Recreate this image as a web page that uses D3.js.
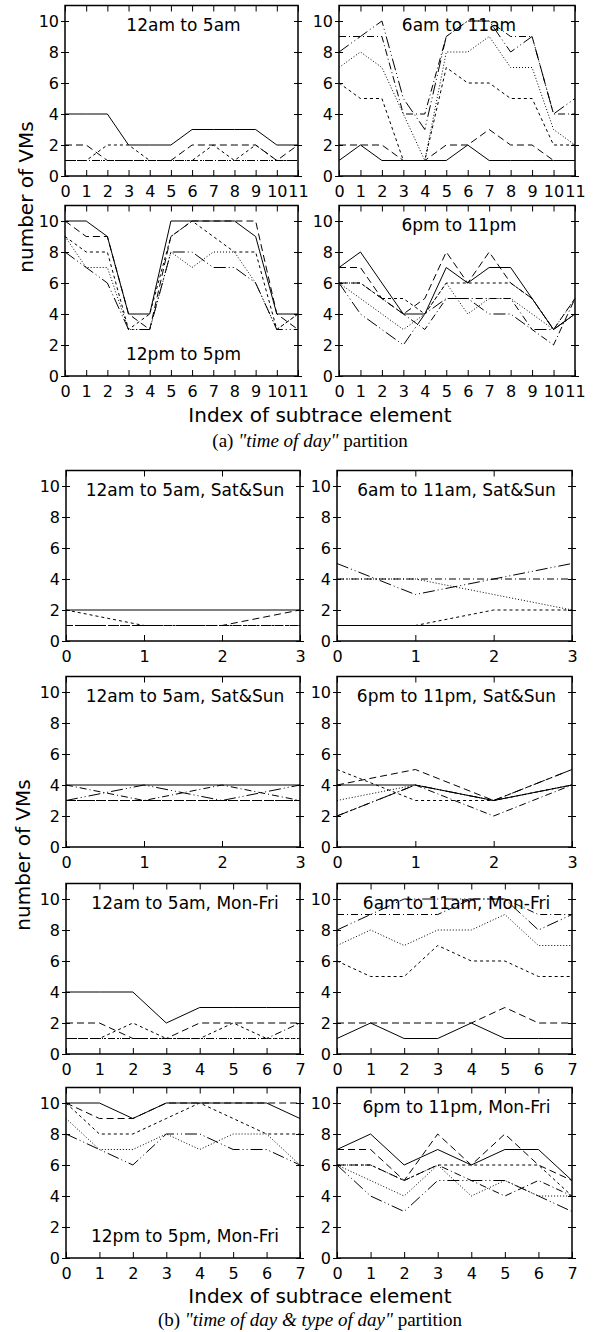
<!DOCTYPE html>
<html>
<head>
<meta charset="utf-8">
<script src="https://cdn.jsdelivr.net/npm/d3@7"></script>
<style>
body { margin: 0; background: #fff; }
svg text { font-family: "DejaVu Sans", sans-serif; fill: #000; }
</style>
</head>
<body>
<div id="chart"></div>
<script>
// x positions (index of subtrace element)
let idx12 = [0, 1, 2, 3, 4, 5, 6, 7, 8, 9, 10, 11];
let idx8 = [0, 1, 2, 3, 4, 5, 6, 7];
let idx4 = [0, 1, 2, 3];
let yTicks = [0, 2, 4, 6, 8, 10];

// series order in every panel: solid, dashed, short dash, dotted, dash-dot, dash-dot-dot
// (a) "time of day"
let a1 = [
    [4, 4, 4, 2, 2, 2, 3, 3, 3, 3, 2, 2],
    [2, 2, 1, 1, 1, 1, 2, 2, 2, 2, 1, 2],
    [1, 1, 2, 2, 1, 1, 1, 2, 1, 2, 1, 1],
    [1, 1, 1, 1, 1, 1, 1, 1, 1, 1, 1, 1],
    [1, 1, 1, 1, 1, 1, 1, 1, 1, 1, 1, 1],
    []
];
let a2 = [
    [1, 2, 1, 1, 1, 1, 2, 1, 1, 1, 1, 1],
    [2, 2, 2, 1, 1, 2, 2, 3, 2, 2, 1, 1],
    [6, 5, 5, 1, 1, 7, 6, 6, 5, 5, 2, 2],
    [7, 8, 7, 4, 1, 8, 8, 9, 7, 7, 3, 2],
    [9, 9, 9, 4, 4, 9, 10, 10, 9, 9, 4, 4],
    [8, 9, 10, 5, 3, 9, 10, 10, 8, 9, 4, 5]
];
let a3 = [
    [10, 10, 9, 4, 4, 10, 10, 10, 10, 9, 4, 4],
    [10, 9, 9, 4, 3, 9, 10, 10, 10, 10, 4, 3],
    [9, 8, 8, 3, 4, 9, 10, 9, 8, 8, 3, 4],
    [9, 7, 7, 3, 3, 8, 7, 8, 8, 6, 3, 4],
    [],
    [8, 7, 6, 3, 3, 8, 8, 7, 7, 6, 3, 3]
];
let a4 = [
    [7, 8, 6, 4, 4, 7, 6, 7, 7, 5, 3, 4],
    [7, 7, 5, 4, 5, 8, 6, 8, 6, 5, 3, 5],
    [6, 6, 5, 5, 4, 6, 6, 6, 6, 5, 3, 4],
    [6, 5, 4, 3, 4, 6, 4, 5, 5, 4, 3, 5],
    [6, 6, 5, 4, 3, 5, 5, 5, 5, 3, 2, 5],
    [6, 4, 3, 2, 4, 5, 5, 4, 4, 3, 3, 4]
];

// (b) "time of day & type of day"
let b1 = [
    [2, 2, 2, 2],
    [1, 1, 1, 2],
    [2, 1, 1, 1],
    [1, 1, 1, 1],
    [1, 1, 1, 1],
    []
];
let b2 = [
    [1, 1, 1, 1],
    [1, 1, 1, 1],
    [1, 1, 2, 2],
    [4, 4, 3, 2],
    [4, 4, 4, 4],
    [5, 3, 4, 5]
];
let b3 = [
    [4, 4, 4, 4],
    [3, 3, 3, 3],
    [3, 3, 3, 3],
    [3, 3, 3, 3],
    [4, 3, 4, 3],
    [3, 4, 3, 4]
];
let b4 = [
    [4, 4, 3, 4],
    [4, 5, 3, 5],
    [5, 3, 3, 4],
    [3, 4, 3, 4],
    [2, 4, 2, 4],
    [2, 4, 3, 5]
];
let b5 = [
    [4, 4, 4, 2, 3, 3, 3, 3],
    [2, 2, 1, 1, 2, 2, 2, 2],
    [1, 1, 2, 1, 1, 2, 1, 1],
    [1, 1, 1, 1, 1, 1, 1, 1],
    [1, 1, 1, 1, 1, 1, 1, 2],
    []
];
let b6 = [
    [1, 2, 1, 1, 2, 1, 1, 1],
    [2, 2, 2, 2, 2, 3, 2, 2],
    [6, 5, 5, 7, 6, 6, 5, 5],
    [7, 8, 7, 8, 8, 9, 7, 7],
    [9, 9, 9, 9, 10, 10, 9, 9],
    [8, 9, 10, 10, 10, 10, 8, 9]
];
let b7 = [
    [10, 10, 9, 10, 10, 10, 10, 9],
    [10, 9, 9, 10, 10, 10, 10, 10],
    [10, 8, 8, 9, 10, 9, 8, 8],
    [9, 7, 7, 8, 7, 8, 8, 6],
    [],
    [8, 7, 6, 8, 8, 7, 7, 6]
];
let b8 = [
    [7, 8, 6, 7, 6, 7, 7, 5],
    [7, 7, 5, 8, 6, 8, 6, 5],
    [6, 6, 5, 6, 6, 6, 6, 4],
    [6, 5, 4, 6, 4, 5, 4, 4],
    [6, 6, 5, 6, 5, 4, 5, 4],
    [6, 4, 3, 5, 5, 5, 4, 3]
];

let titles_a = ['12am to 5am', '6am to 11am', '12pm to 5pm', '6pm to 11pm'];
let titles_b = ['12am to 5am, Sat&Sun', '6am to 11am, Sat&Sun',
    '12am to 5am, Sat&Sun', '6pm to 11pm, Sat&Sun',
    '12am to 5am, Mon-Fri', '6am to 11am, Mon-Fri',
    '12pm to 5pm, Mon-Fri', '6pm to 11pm, Mon-Fri'];

let chart_width = 602;
let chart_height = 1332;
let dashes = [null, '7,4', '3,3', '1,2', '7,3,1,3', '12,3,1,3,1,3'];

let svg = d3.select('#chart')
    .append('svg')
    .attr('width', chart_width)
    .attr('height', chart_height);

// panel layout: [left, right] of frame, y of value 0
let colA = [[65, 298], [339, 575]];
let colB = [[66, 300], [337, 572]];

let panels = [
    { data: a1, xs: idx12, col: colA[0], y0: 176, title: titles_a[0], top: true },
    { data: a2, xs: idx12, col: colA[1], y0: 176, title: titles_a[1], top: true },
    { data: a3, xs: idx12, col: colA[0], y0: 376, title: titles_a[2], top: false },
    { data: a4, xs: idx12, col: colA[1], y0: 376, title: titles_a[3], top: true },
    { data: b1, xs: idx4, col: colB[0], y0: 641, title: titles_b[0], top: true },
    { data: b2, xs: idx4, col: colB[1], y0: 641, title: titles_b[1], top: true },
    { data: b3, xs: idx4, col: colB[0], y0: 847, title: titles_b[2], top: true },
    { data: b4, xs: idx4, col: colB[1], y0: 847, title: titles_b[3], top: true },
    { data: b5, xs: idx8, col: colB[0], y0: 1054, title: titles_b[4], top: true },
    { data: b6, xs: idx8, col: colB[1], y0: 1054, title: titles_b[5], top: true },
    { data: b7, xs: idx8, col: colB[0], y0: 1258, title: titles_b[6], top: false },
    { data: b8, xs: idx8, col: colB[1], y0: 1258, title: titles_b[7], top: true }
];

function styleAxis(sel) {
    sel.attr('font-size', 16).attr('font-family', 'DejaVu Sans');
    sel.select('.domain').remove();
    sel.selectAll('line').attr('stroke-width', 1);
}

panels.forEach(function (p) {
    let xScale = d3.scaleLinear()
        .domain([0, p.xs.length - 1])
        .range(p.col);
    let yScale = d3.scaleLinear()
        .domain([0, 11])
        .range([p.y0, p.y0 - 170.5]);

    let g = svg.append('g');
    let yTop = yScale(11);

    // panel label
    g.append('text')
        .attr('x', (p.col[0] + p.col[1]) / 2 + 2)
        .attr('y', p.top ? yTop + 25 : p.y0 - 16)
        .attr('text-anchor', 'middle')
        .attr('font-size', 17)
        .text(p.title);

    // lines
    let line = d3.line()
        .x(function (d, j) { return xScale(p.xs[j]); })
        .y(function (d) { return yScale(d); });

    p.data.forEach(function (s, i) {
        if (!s.length) return;
        g.append('path')
            .datum(s)
            .attr('d', line)
            .attr('fill', 'none')
            .attr('stroke', '#000')
            .attr('stroke-width', 1)
            .attr('stroke-dasharray', dashes[i]);
    });

    // axes, gnuplot style: ticks on all four sides
    g.append('g')
        .attr('transform', 'translate(0,' + p.y0 + ')')
        .call(d3.axisBottom(xScale).tickValues(p.xs).tickSize(-6).tickPadding(10).tickFormat(d3.format('d')))
        .call(styleAxis);
    g.append('g')
        .attr('transform', 'translate(0,' + yTop + ')')
        .call(d3.axisTop(xScale).tickValues(p.xs).tickSize(-6).tickFormat(''))
        .call(styleAxis);
    g.append('g')
        .attr('transform', 'translate(' + p.col[0] + ',0)')
        .call(d3.axisLeft(yScale).tickValues(yTicks).tickSize(4).tickPadding(2))
        .call(styleAxis);
    g.append('g')
        .attr('transform', 'translate(' + p.col[0] + ',0)')
        .call(d3.axisLeft(yScale).tickValues(yTicks).tickSize(-4).tickFormat(''))
        .call(styleAxis);
    g.append('g')
        .attr('transform', 'translate(' + p.col[1] + ',0)')
        .call(d3.axisRight(yScale).tickValues(yTicks).tickSize(4).tickFormat(''))
        .call(styleAxis);
    g.append('g')
        .attr('transform', 'translate(' + p.col[1] + ',0)')
        .call(d3.axisRight(yScale).tickValues(yTicks).tickSize(-4).tickFormat(''))
        .call(styleAxis);

    // frame
    g.append('rect')
        .attr('x', p.col[0])
        .attr('y', yTop)
        .attr('width', p.col[1] - p.col[0])
        .attr('height', p.y0 - yTop)
        .attr('fill', 'none')
        .attr('stroke', '#000')
        .attr('stroke-width', 1.5);
});

// axis titles
function yTitle(cx, cy) {
    svg.append('text')
        .attr('transform', 'translate(' + cx + ',' + cy + ') rotate(-90)')
        .attr('text-anchor', 'middle')
        .attr('font-size', 20)
        .text('number of VMs');
}
function xTitle(cy) {
    svg.append('text')
        .attr('x', 320)
        .attr('y', cy)
        .attr('text-anchor', 'middle')
        .attr('font-size', 20)
        .text('Index of subtrace element');
}
function caption(cy, letter, quoted) {
    let t = svg.append('text')
        .attr('x', 310)
        .attr('y', cy)
        .attr('text-anchor', 'middle')
        .attr('font-size', 19)
        .style('font-family', '"Liberation Serif", serif');
    t.append('tspan').text('(' + letter + ') ');
    t.append('tspan').attr('font-style', 'italic').text('"' + quoted + '"');
    t.append('tspan').text(' partition');
}

yTitle(33, 197);
xTitle(422);
caption(447, 'a', 'time of day');

yTitle(30, 855);
xTitle(1303);
caption(1326, 'b', 'time of day & type of day');
</script>
</body>
</html>
